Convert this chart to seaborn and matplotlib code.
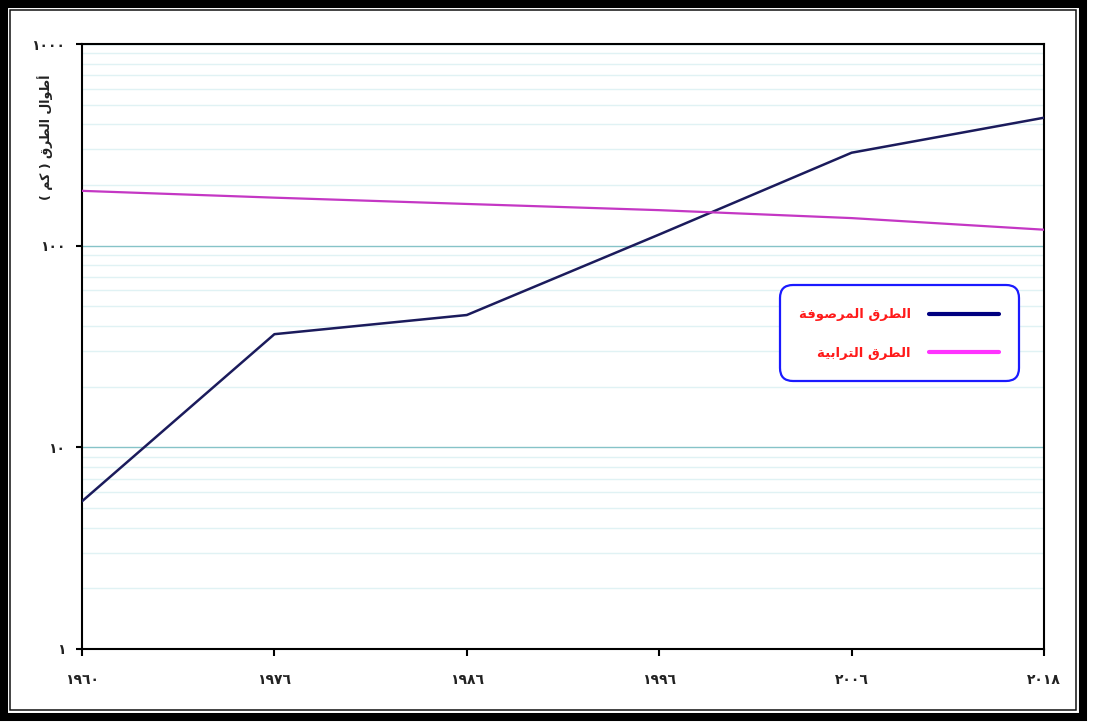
import matplotlib
matplotlib.use("Agg")
import matplotlib.pyplot as plt
import pandas as pd
import seaborn as sns
from matplotlib.lines import Line2D
from matplotlib.patches import FancyBboxPatch, Rectangle
from matplotlib.ticker import FixedLocator, LogLocator, NullFormatter
from matplotlib.transforms import IdentityTransform

# ---- data -------------------------------------------------------------
years = ["١٩٦٠", "١٩٧٦", "١٩٨٦", "١٩٩٦", "٢٠٠٦", "٢٠١٨"]
paved_km = [5.4, 36.4, 45.3, 113.6, 289, 431]
dirt_km = [187, 173, 161, 150, 137, 120]
series_names = ["الطرق المرصوفة", "الطرق الترابية"]
y_ticks = [1, 10, 100, 1000]
y_tick_labels = ["١", "١٠", "١٠٠", "١٠٠٠"]
y_title = "أطوال الطرق ( كم )"

# ---- minimal Arabic shaping (matplotlib has no joining / RTL support) ----
FORMS = {  # isolated, final, initial, medial
    "ا": ("\uFE8D", "\uFE8E", None, None),
    "أ": ("\uFE83", "\uFE84", None, None),
    "ب": ("\uFE8F", "\uFE90", "\uFE91", "\uFE92"),
    "ة": ("\uFE93", "\uFE94", None, None),
    "ت": ("\uFE95", "\uFE96", "\uFE97", "\uFE98"),
    "ر": ("\uFEAD", "\uFEAE", None, None),
    "ص": ("\uFEB9", "\uFEBA", "\uFEBB", "\uFEBC"),
    "ط": ("\uFEC1", "\uFEC2", "\uFEC3", "\uFEC4"),
    "ف": ("\uFED1", "\uFED2", "\uFED3", "\uFED4"),
    "ق": ("\uFED5", "\uFED6", "\uFED7", "\uFED8"),
    "ك": ("\uFED9", "\uFEDA", "\uFEDB", "\uFEDC"),
    "ل": ("\uFEDD", "\uFEDE", "\uFEDF", "\uFEE0"),
    "م": ("\uFEE1", "\uFEE2", "\uFEE3", "\uFEE4"),
    "و": ("\uFEED", "\uFEEE", None, None),
    "ي": ("\uFEF1", "\uFEF2", "\uFEF3", "\uFEF4"),
}


def shape(text):
    out = []
    for i, ch in enumerate(text):
        f = FORMS.get(ch)
        if f is None:
            out.append(ch)
            continue
        prev = text[i - 1] if i > 0 else ""
        nxt = text[i + 1] if i + 1 < len(text) else ""
        join_prev = prev in FORMS and FORMS[prev][2] is not None
        join_next = f[2] is not None and nxt in FORMS
        if join_prev and join_next:
            out.append(f[3])
        elif join_prev:
            out.append(f[1])
        elif join_next:
            out.append(f[2])
        else:
            out.append(f[0])
    visual = "".join(reversed(out))
    return visual.translate(str.maketrans("()", ")("))


# ---- figure -----------------------------------------------------------
sns.set_theme(style="white")
plt.rcParams["font.family"] = ["DejaVu Sans"]

W, H = 1095, 723
fig = plt.figure(figsize=(W / 100, H / 100), dpi=100, facecolor="white")
ax = fig.add_axes([82 / W, 1 - 649 / H, (1044 - 82) / W, (649 - 44) / H])

df = pd.DataFrame({
    "pos": list(range(len(years))) * 2,
    "km": paved_km + dirt_km,
    "series": [series_names[0]] * len(years) + [series_names[1]] * len(years),
})
line_colors = {series_names[0]: "#1b1b5c", series_names[1]: "#c437c4"}
sns.lineplot(data=df, x="pos", y="km", hue="series", palette=line_colors,
             linewidth=1.8, legend=False, ax=ax, zorder=3)
for ln in ax.lines:
    if ln.get_color() == "#c437c4":
        ln.set_linewidth(1.6)

ax.set_yscale("log")
ax.set_ylim(1, 1000)
ax.set_xlim(0, len(years) - 1)
ax.set_xlabel("")
ax.set_ylabel("")

ax.xaxis.set_major_locator(FixedLocator(range(len(years))))
ax.set_xticklabels(years, fontsize=10, fontweight="bold", color="#222222")
ax.yaxis.set_major_locator(FixedLocator(y_ticks))
ax.set_yticklabels(y_tick_labels, fontsize=10, fontweight="bold", color="#222222")
ax.yaxis.set_minor_locator(LogLocator(base=10, subs=range(2, 10)))
ax.yaxis.set_minor_formatter(NullFormatter())

ax.tick_params(axis="y", which="major", direction="out", length=4, width=1.5,
               color="black", pad=8, left=True)
ax.tick_params(axis="y", which="minor", length=0)
ax.tick_params(axis="x", which="major", direction="out", length=5, width=1.5,
               color="black", pad=12, bottom=True)

ax.grid(False)
ax.yaxis.grid(True, which="major", color="#86c3c8", linewidth=1.0, zorder=1)
ax.yaxis.grid(True, which="minor", color="#e0f2f4", linewidth=1.0, zorder=1)
ax.set_axisbelow(True)

for side in ["left", "right", "top", "bottom"]:
    ax.spines[side].set_visible(True)
    ax.spines[side].set_color("black")
    ax.spines[side].set_linewidth(1.5)

# y-axis title
fig.text(45 / W, 1 - 137 / H, shape(y_title), rotation=90, ha="center", va="center",
         fontsize=9, fontweight="bold", color="#222222")

# legend with a rounded blue frame
box = FancyBboxPatch((780, H - 381), 239, 96,
                     boxstyle="round,pad=0,rounding_size=13",
                     transform=IdentityTransform(), facecolor="white",
                     edgecolor="#1a1aff", linewidth=1.6, zorder=5)
fig.patches.append(box)
handles = [Line2D([], [], color="#000080", linewidth=3),
           Line2D([], [], color="#ff33ff", linewidth=3)]
leg = fig.legend(handles, [shape(s) for s in series_names],
                 loc="upper right", bbox_to_anchor=(1024 / W, 1 - 283 / H),
                 frameon=False, markerfirst=False,
                 handlelength=5.3, handletextpad=1.35, labelspacing=1.95,
                 borderpad=1.42, prop={"weight": "bold", "size": 9.5})
leg.set_zorder(6)
for t in leg.get_texts():
    t.set_color("#ff1a1a")

# decorative double frame round the page
fig.patches.append(Rectangle((4, H - 717), 1079, 713.5, transform=IdentityTransform(),
                             fill=False, edgecolor="black", linewidth=5.8))
fig.patches.append(Rectangle((10, H - 710), 1066, 700, transform=IdentityTransform(),
                             fill=False, edgecolor="#111111", linewidth=1.1))

fig.savefig("out.png", dpi=100, facecolor="white")
